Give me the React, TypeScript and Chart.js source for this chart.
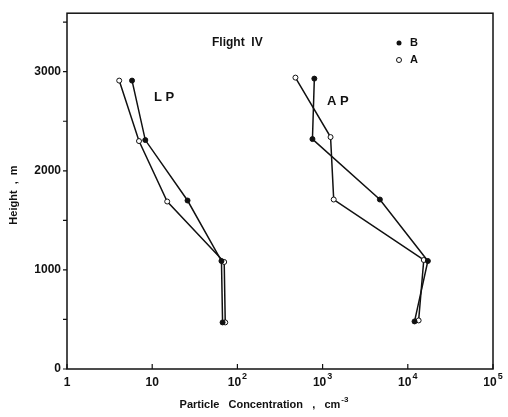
import React, { useEffect, useRef } from "react";
import { Chart, registerables } from "chart.js";

Chart.register(...registerables);

// Height (m) levels and particle concentrations (cm^-3)
const lpBHeight = [2910, 2310, 1700, 1090, 470];
const lpBConc = [5.8, 8.3, 26, 65, 67];
const lpAHeight = [2910, 2300, 1690, 1080, 470];
const lpAConc = [4.1, 7.0, 15, 70, 72];
const apBHeight = [2930, 2320, 1710, 1090, 480];
const apBConc = [800, 760, 4700, 17200, 12000];
const apAHeight = [2940, 2340, 1710, 1100, 490];
const apAConc = [480, 1240, 1350, 15400, 13400];

const xTickValues = [1, 10, 100, 1000, 10000, 100000];
const xTickBase = ["1", "10", "10", "10", "10", "10"];
const xTickExp = ["", "", "2", "3", "4", "5"];
const yTickValues = [0, 500, 1000, 1500, 2000, 2500, 3000, 3500];
const yLabelValues = [0, 1000, 2000, 3000];

const FONT = "'Liberation Sans', Arial, sans-serif";

function pts(xs: number[], ys: number[]) {
  return xs.map((x, i) => ({ x, y: ys[i] }));
}

const decorPlugin = {
  id: "decor",
  afterDraw(chart: any) {
    const ctx = chart.ctx;
    const a = chart.chartArea;
    const xs = chart.scales.x;
    const ys = chart.scales.y;
    ctx.save();
    ctx.strokeStyle = "#111";
    ctx.lineWidth = 1.5;
    ctx.strokeRect(a.left, a.top, a.right - a.left, a.bottom - a.top);
    ctx.lineWidth = 1.2;
    ctx.beginPath();
    yTickValues.forEach((v) => {
      const y = ys.getPixelForValue(v);
      ctx.moveTo(a.left - 4, y);
      ctx.lineTo(a.left, y);
    });
    xTickValues.forEach((v) => {
      const x = xs.getPixelForValue(v);
      ctx.moveTo(x, a.bottom);
      ctx.lineTo(x, a.bottom - 5);
    });
    ctx.stroke();

    ctx.fillStyle = "#111";
    ctx.textBaseline = "middle";
    // X tick labels with superscripts
    xTickValues.forEach((v, i) => {
      const x = xs.getPixelForValue(v);
      const base = xTickBase[i];
      const exp = xTickExp[i];
      ctx.font = `bold 12px ${FONT}`;
      const bw = ctx.measureText(base).width;
      ctx.font = `bold 9px ${FONT}`;
      const ew = exp ? ctx.measureText(exp).width + 1 : 0;
      const start = x - (bw + ew) / 2;
      ctx.textAlign = "left";
      ctx.font = `bold 12px ${FONT}`;
      ctx.fillText(base, start, 383);
      if (exp) {
        ctx.font = `bold 9px ${FONT}`;
        ctx.fillText(exp, start + bw + 1, 377);
      }
    });
    // Annotations
    ctx.font = `bold 12px ${FONT}`;
    ctx.textAlign = "left";
    ctx.fillText("Flight  IV", 212, 43);
    ctx.font = `bold 13px ${FONT}`;
    ctx.fillText("L P", 154, 97);
    ctx.fillText("A P", 327, 101);
    // Legend
    ctx.font = `bold 11px ${FONT}`;
    ctx.beginPath();
    ctx.arc(399, 43, 2.5, 0, Math.PI * 2);
    ctx.fill();
    ctx.fillText("B", 410, 43);
    ctx.beginPath();
    ctx.lineWidth = 1;
    ctx.arc(399, 60, 2.5, 0, Math.PI * 2);
    ctx.stroke();
    ctx.fillText("A", 410, 60);
    // Axis titles
    ctx.font = `bold 11px ${FONT}`;
    ctx.textAlign = "left";
    const t1 = "Particle   Concentration   ,   cm";
    const w1 = ctx.measureText(t1).width;
    ctx.font = `bold 8px ${FONT}`;
    const w2 = ctx.measureText("-3").width;
    const sx = 264 - (w1 + w2 + 1) / 2;
    ctx.font = `bold 11px ${FONT}`;
    ctx.fillText(t1, sx, 405);
    ctx.font = `bold 8px ${FONT}`;
    ctx.fillText("-3", sx + w1 + 1, 400);
    ctx.font = `bold 11px ${FONT}`;
    ctx.textAlign = "center";
    ctx.save();
    ctx.translate(14, 195);
    ctx.rotate(-Math.PI / 2);
    ctx.fillText("Height  ,  m", 0, 0);
    ctx.restore();
    ctx.restore();
  },
};

export default function App() {
  const ref = useRef<HTMLCanvasElement | null>(null);
  useEffect(() => {
    if (!ref.current) return;
    const line = (data: any[], filled: boolean) => ({
      data,
      borderColor: "#111",
      borderWidth: 1.5,
      pointRadius: 2.5,
      pointBackgroundColor: filled ? "#111" : "#fff",
      pointBorderColor: "#111",
      pointBorderWidth: 1,
      showLine: true,
      tension: 0,
    });
    const chart = new Chart(ref.current, {
      type: "scatter",
      data: {
        datasets: [
          { label: "LP B", ...line(pts(lpBConc, lpBHeight), true) },
          { label: "LP A", ...line(pts(lpAConc, lpAHeight), false) },
          { label: "AP B", ...line(pts(apBConc, apBHeight), true) },
          { label: "AP A", ...line(pts(apAConc, apAHeight), false) },
        ],
      },
      options: {
        animation: false,
        responsive: false,
        maintainAspectRatio: false,
        layout: { padding: { top: 10, right: 15, left: 0, bottom: 0 } },
        plugins: { legend: { display: false }, tooltip: { enabled: false } },
        scales: {
          x: {
            type: "logarithmic",
            min: 1,
            max: 100000,
            grid: { display: false, drawTicks: false },
            border: { display: false },
            afterBuildTicks: (s: any) => {
              s.ticks = xTickValues.map((v) => ({ value: v }));
            },
            afterFit: (s: any) => {
              s.height = 48;
            },
            ticks: { display: false },
          },
          y: {
            type: "linear",
            min: 0,
            max: 3590,
            grid: { display: false, drawTicks: false },
            border: { display: false },
            afterBuildTicks: (s: any) => {
              s.ticks = yLabelValues.map((v) => ({ value: v }));
            },
            afterFit: (s: any) => {
              s.width = 67;
            },
            ticks: {
              autoSkip: false,
              padding: 6,
              color: "#111",
              font: { family: FONT, size: 12, weight: "bold" },
              callback: (v: any) => String(v),
            },
          },
        },
      },
      plugins: [decorPlugin],
    } as any);
    return () => chart.destroy();
  }, []);
  return (
    <div style={{ position: "fixed", left: 0, top: 0, width: 508, height: 417, background: "#fff" }}>
      <canvas ref={ref} width={508} height={417} style={{ width: 508, height: 417 }} />
    </div>
  );
}
